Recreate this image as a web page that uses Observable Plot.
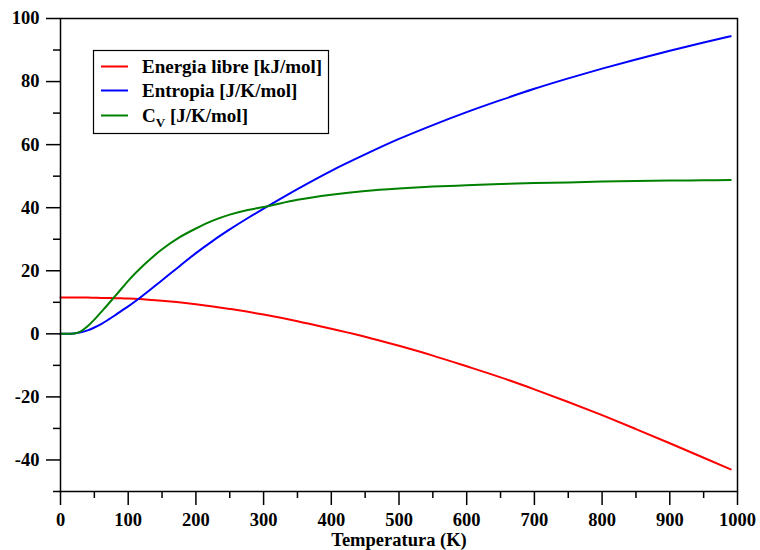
<!DOCTYPE html>
<html>
<head>
<meta charset="utf-8">
<script src="https://cdn.jsdelivr.net/npm/d3@7"></script>
<script src="https://cdn.jsdelivr.net/npm/@observablehq/plot@0.6"></script>
<style>
  html, body { margin: 0; padding: 0; background: #fff; }
  #chart { width: 760px; height: 550px; }
</style>
</head>
<body>
<div id="chart"></div>
<script>
// Temperature grid (K)
const temperature = [0, 10, 20, 30, 40, 50, 60, 70, 80, 90, 100, 125, 150, 175, 200, 225, 250, 275, 300, 350, 400, 450, 500, 550, 600, 650, 700, 750, 800, 850, 900, 950, 990];
// Energia libre [kJ/mol]
const energiaLibre = [11.5, 11.5, 11.5, 11.5, 11.5, 11.45, 11.4, 11.35, 11.3, 11.25, 11.2, 10.9, 10.5, 10.0, 9.4, 8.7, 7.9, 7.05, 6.1, 4.0, 1.6, -0.9, -3.8, -6.9, -10.3, -13.8, -17.6, -21.6, -25.8, -30.2, -34.7, -39.3, -43.0];
// Entropia [J/K/mol]
const entropia = [0, 0, 0.1, 0.5, 1.1, 2.0, 3.1, 4.4, 5.8, 7.3, 8.7, 12.7, 17.0, 21.3, 25.6, 29.5, 33.1, 36.5, 39.7, 45.9, 51.7, 56.9, 61.8, 66.2, 70.3, 74.1, 77.7, 81.0, 84.1, 87.0, 89.8, 92.4, 94.4];
// Cv [J/K/mol]
const capCalorifica = [0, 0, 0.1, 0.8, 2.4, 4.5, 6.9, 9.3, 11.8, 14.3, 16.8, 22.2, 26.8, 30.5, 33.4, 35.9, 37.8, 39.2, 40.2, 42.5, 44.1, 45.3, 46.1, 46.7, 47.1, 47.5, 47.8, 48.0, 48.3, 48.5, 48.6, 48.7, 48.8];

const seriesNames = ["Energia libre [kJ/mol]", "Entropia [J/K/mol]", "Cv [J/K/mol]"];
const seriesColors = ["#ff0000", "#0000ff", "#008000"];
const seriesValues = [energiaLibre, entropia, capCalorifica];

const xMajor = d3.range(0, 1001, 100);
const xMinor = d3.range(50, 1000, 100);
const yMajor = d3.range(-40, 101, 20);
const yMinor = d3.range(-50, 100, 20);
const xLabel = "Temperatura (K)";

const rows = seriesValues.map((vals) => temperature.map((t, i) => ({T: t, v: vals[i]})));

const FONT = "'Liberation Serif', 'Times New Roman', serif";
const FS = 18.5;

const plot = Plot.plot({
  width: 760,
  height: 550,
  marginLeft: 60,
  marginRight: 23,
  marginTop: 18,
  marginBottom: 59,
  style: {fontFamily: FONT, fontSize: FS + "px", fontWeight: "bold", color: "black", background: "white", overflow: "visible"},
  x: {domain: [0, 1000]},
  y: {domain: [-50, 100]},
  marks: [
    ...rows.map((r, i) => Plot.line(r, {x: "T", y: "v", stroke: seriesColors[i], strokeWidth: 2, curve: "monotone-x"})),
    Plot.frame({stroke: "black", strokeWidth: 1.5}),
    Plot.axisX(xMajor, {tickSize: 14, tickPadding: 7, tickFormat: (d) => String(d), label: null, strokeWidth: 1.5, fontSize: FS, fontWeight: "bold"}),
    Plot.axisX(xMinor, {tickSize: 7, tickFormat: () => "", label: null, strokeWidth: 1.5}),
    Plot.axisY(yMajor, {tickSize: 14, tickPadding: 7, tickFormat: (d) => String(d), label: null, strokeWidth: 1.5, fontSize: FS, fontWeight: "bold"}),
    Plot.axisY(yMinor, {tickSize: 7, tickFormat: () => "", label: null, strokeWidth: 1.5}),
    Plot.text([xLabel], {frameAnchor: "bottom", dy: 54, text: (d) => d, fontSize: FS, fontWeight: "bold"})
  ]
});

document.getElementById("chart").appendChild(plot);

// Legend box drawn inside the SVG
const svg = d3.select(plot);
const lg = svg.append("g").attr("font-family", FONT).attr("font-weight", "bold").attr("font-size", 19).attr("text-anchor", "start");
lg.append("rect").attr("x", 93.5).attr("y", 50.5).attr("width", 235).attr("height", 83)
  .attr("fill", "white").attr("stroke", "black").attr("stroke-width", 1.2);
const rowY = [66.5, 90.5, 115.5];
seriesNames.forEach((name, i) => {
  lg.append("line").attr("x1", 101).attr("x2", 128).attr("y1", rowY[i]).attr("y2", rowY[i])
    .attr("stroke", seriesColors[i]).attr("stroke-width", 2);
  const t = lg.append("text").attr("x", 142).attr("y", rowY[i] + 6).attr("fill", "black").attr("text-anchor", "start");
  if (i === 2) {
    t.append("tspan").text("C");
    t.append("tspan").attr("font-size", 13).attr("dy", 5).text("V");
    t.append("tspan").attr("dy", -5).text(" [J/K/mol]");
  } else {
    t.text(name);
  }
});
</script>
</body>
</html>
